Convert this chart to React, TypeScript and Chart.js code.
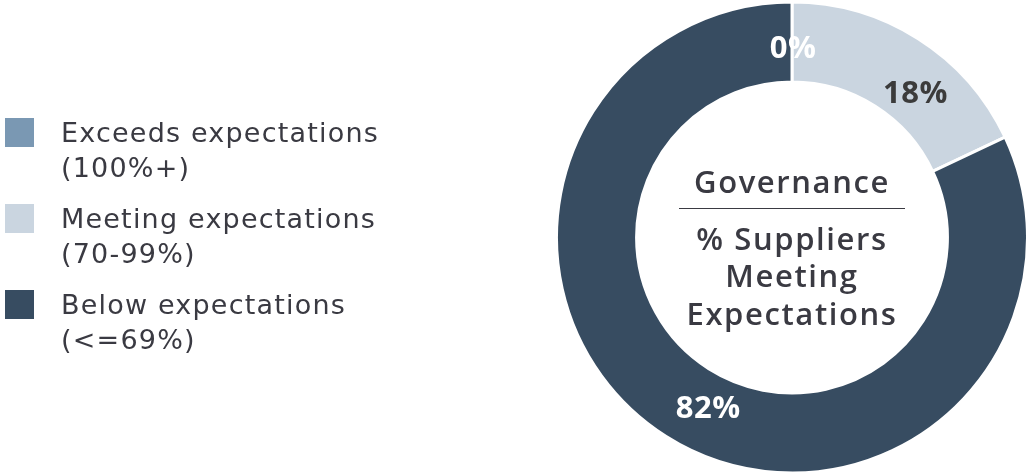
import React, { useEffect, useRef } from "react";
import { Chart, registerables } from "chart.js";
Chart.register(...registerables);

const categories = ["Exceeds expectations", "Meeting expectations", "Below expectations"];
const ranges = ["(100%+)", "(70-99%)", "(<=69%)"];
const values = [0, 18, 82];
const centerTitle = "Governance";
const centerSubtitle = ["% Suppliers", "Meeting", "Expectations"];

const colors = ["#7a98b3", "#cad5e0", "#374c61"];
const labelColors = ["#ffffff", "#3b3b3b", "#ffffff"];
const labelAngleFraction = [0.5, 0.62, 0.48];
const FONT = "'Open Sans', 'DejaVu Sans', sans-serif";
const LEGEND_FONT = "'DejaVu Sans', sans-serif";
const TEXT = "#3a3a42";

const valueLabels = {
  id: "valueLabels",
  afterDatasetsDraw(chart: any) {
    const ctx = chart.ctx;
    const meta = chart.getDatasetMeta(0);
    ctx.save();
    ctx.font = `700 31px ${FONT}`;
    (ctx as any).letterSpacing = "0.5px";
    ctx.textAlign = "center";
    ctx.textBaseline = "middle";
    meta.data.forEach((arc: any, i: number) => {
      const p = arc.getProps(["x", "y", "startAngle", "endAngle", "innerRadius", "outerRadius"], true);
      const a = p.startAngle + (p.endAngle - p.startAngle) * labelAngleFraction[i];
      const r = p.innerRadius + (p.outerRadius - p.innerRadius) * 0.43;
      ctx.fillStyle = labelColors[i];
      ctx.fillText(`${values[i]}%`, p.x + r * Math.cos(a) + 1, p.y + r * Math.sin(a) + 2);
    });
    ctx.restore();
  },
};

const centerText = {
  id: "centerText",
  afterDraw(chart: any) {
    const ctx = chart.ctx;
    const arc = chart.getDatasetMeta(0).data[0];
    const cx = arc.x, cy = arc.y;
    ctx.save();
    ctx.fillStyle = TEXT;
    ctx.textAlign = "center";
    ctx.textBaseline = "alphabetic";
    ctx.font = `600 31px ${FONT}`;
    (ctx as any).letterSpacing = "1.6px";
    ctx.fillText(centerTitle, cx, cy - 45);
    ctx.strokeStyle = TEXT;
    ctx.lineWidth = 1.2;
    ctx.beginPath();
    ctx.moveTo(cx - 113, cy - 29);
    ctx.lineTo(cx + 113, cy - 29);
    ctx.stroke();
    centerSubtitle.forEach((t, i) => ctx.fillText(t, cx, cy + 12 + i * 37.5));
    ctx.restore();
  },
};

const sideLegend = {
  id: "sideLegend",
  afterDraw(chart: any) {
    const ctx = chart.ctx;
    ctx.save();
    ctx.textAlign = "left";
    ctx.textBaseline = "alphabetic";
    ctx.font = `400 27px ${LEGEND_FONT}`;
    (ctx as any).letterSpacing = "1.2px";
    categories.forEach((c, i) => {
      const top = 118 + i * 86;
      ctx.fillStyle = colors[i];
      ctx.fillRect(5, top, 29, 29);
      ctx.fillStyle = TEXT;
      ctx.fillText(c, 61, top + 24);
      ctx.fillText(ranges[i], 61, top + 59);
    });
    ctx.restore();
  },
};

export default function App() {
  const ref = useRef<HTMLCanvasElement>(null);
  useEffect(() => {
    const chart = new Chart(ref.current!, {
      type: "doughnut",
      data: {
        labels: categories,
        datasets: [
          {
            data: values,
            backgroundColor: colors,
            borderColor: "#ffffff",
            borderWidth: 3,
            hoverOffset: 0,
          },
        ],
      },
      options: {
        responsive: false,
        animation: false,
        cutout: "66%",
        layout: { padding: { left: 555, right: 0, top: 0, bottom: 0 } },
        plugins: { legend: { display: false }, tooltip: { enabled: false } },
      },
      plugins: [valueLabels, centerText, sideLegend],
    });
    return () => chart.destroy();
  }, []);
  return (
    <div style={{ position: "fixed", left: 0, top: 0, width: 1029, height: 475, background: "#fff" }}>
      <canvas ref={ref} width={1029} height={475} />
    </div>
  );
}
